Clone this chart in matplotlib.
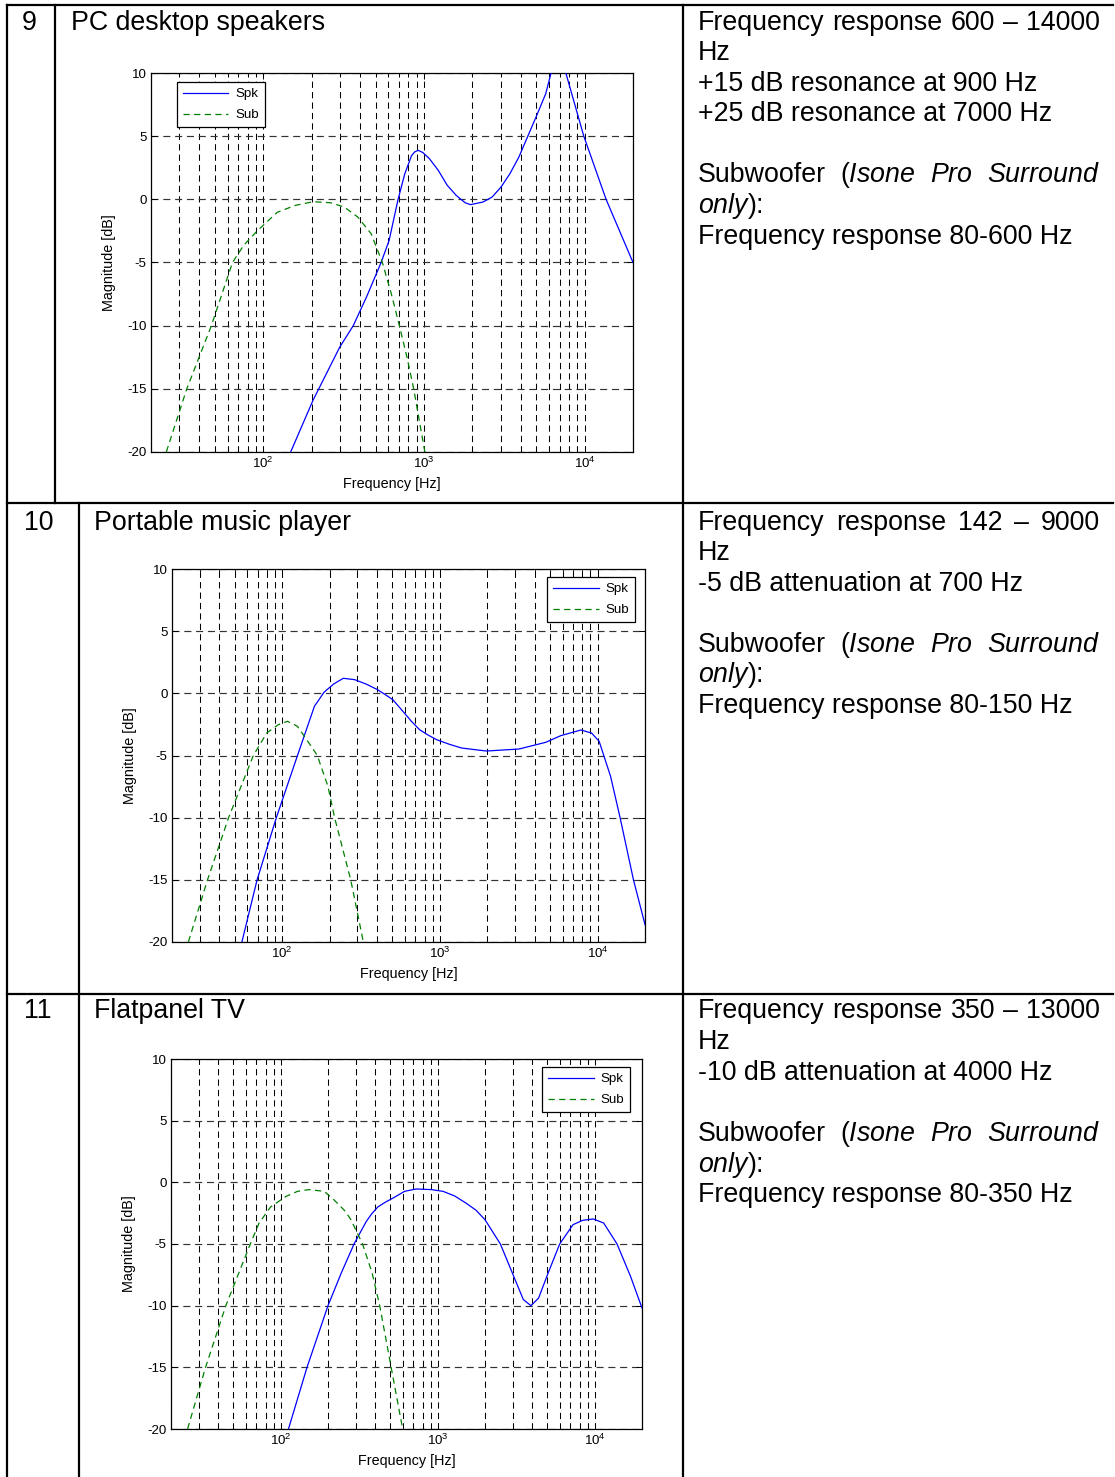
import numpy as np
import matplotlib
matplotlib.use('Agg')
import matplotlib.pyplot as plt
from matplotlib.ticker import LogLocator, NullFormatter

plt.rcParams['font.family'] = ['Liberation Sans', 'DejaVu Sans']
plt.rcParams['mathtext.fontset'] = 'custom'
plt.rcParams['mathtext.rm'] = 'Liberation Sans'
plt.rcParams['mathtext.it'] = 'Liberation Sans:italic'
plt.rcParams['mathtext.bf'] = 'Liberation Sans:bold'
plt.rcParams['axes.unicode_minus'] = False

W, H = 1115, 1477

# --- row 9: PC desktop speakers ---
spk9_f = [148, 204, 299, 363, 440, 541, 607, 690, 759, 836, 875, 920, 985, 1081, 1228,
          1396, 1588, 1804, 1950, 2334, 2655, 3016, 3428, 3898, 4430, 5036, 5726, 6180,
          6900, 7640, 9880, 13600, 20000]
spk9_db = [-20, -15.9, -11.7, -10, -7.7, -5, -3.25, 0, 2.0, 3.45, 3.75, 3.88, 3.7, 3.22,
           2.29, 1.11, 0.31, -0.27, -0.42, -0.21, 0.18, 0.97, 2.03, 3.35, 5.0, 6.65, 8.36,
           10, 12.3, 10, 5, 0, -5]
sub9_f = [24.9, 33.4, 47.5, 64.3, 75.5, 91.5, 122, 158, 204, 263, 319, 387, 469, 551,
          626, 703, 784, 863, 1013]
sub9_db = [-20, -15, -10, -5, -3.64, -2.51, -1.03, -0.48, -0.19, -0.27, -0.61, -1.4,
           -2.72, -5, -7.47, -10, -12.5, -15, -20]

# --- row 10: Portable music player ---
spk10_f = [55.5, 69.3, 91.8, 125, 160, 184, 212, 244, 288, 340, 403, 450, 503, 595, 660,
           743, 840, 955, 1150, 1374, 1973, 3170, 4690, 5860, 7840, 9160, 10240, 12100,
           13900, 16900, 20000]
spk10_db = [-20, -15, -10, -5, -1.05, 0.08, 0.75, 1.21, 1.1, 0.75, 0.29, -0.1, -0.51,
            -1.58, -2.25, -2.92, -3.35, -3.73, -4.1, -4.4, -4.64, -4.48, -3.94, -3.4,
            -2.95, -3.19, -3.86, -6.68, -10, -15, -18.6]
sub10_f = [25.4, 33.6, 45.7, 65.6, 79.8, 94.4, 108, 125, 143, 167, 195, 215, 272, 327]
sub10_db = [-20, -15, -10, -5, -3.19, -2.52, -2.25, -2.65, -3.73, -5, -7.48, -10, -15, -20]

# --- row 11: Flatpanel TV ---
spk11_f = [112, 147, 200, 243, 293, 351, 380, 415, 465, 520, 615, 728, 912, 1080, 1280,
           1511, 1750, 2000, 2506, 3135, 3510, 3925, 4390, 5050, 5980, 7280, 8380, 9800,
           11400, 13870, 16900, 20000]
spk11_db = [-20, -15, -10, -7.35, -5, -3.16, -2.55, -2.0, -1.6, -1.27, -0.73, -0.54,
            -0.59, -0.73, -1.1, -1.68, -2.25, -3.03, -5, -8, -9.51, -10, -9.38, -7.35,
            -5, -3.43, -3.08, -2.97, -3.3, -5, -7.62, -10.19]
sub11_f = [25.5, 33.2, 44.7, 64.0, 72.8, 86.1, 108, 128, 151, 189, 218, 258, 280, 332,
           382, 427, 505, 598]
sub11_db = [-20, -15, -10, -5, -3.3, -2.0, -1.14, -0.73, -0.59, -0.73, -1.41, -2.35,
            -3.03, -5, -7.35, -10, -15, -20]

row_numbers = ['9', '10', '11']
row_titles = ['PC desktop speakers', 'Portable music player', 'Flatpanel TV']
yticks = [-20, -15, -10, -5, 0, 5, 10]

sub_words = ['Subwoofer', r'($\mathit{Isone}$', r'$\mathit{Pro}$', r'$\mathit{Surround}$']
# (words, justified) per line, None = blank line
row_text = [
    [(['Frequency', 'response', '600', '–', '14000'], True), (['Hz'], False),
     (['+15 dB resonance at 900 Hz'], False), (['+25 dB resonance at 7000 Hz'], False),
     None, (sub_words, True), ([r'$\mathit{only}$):'], False),
     (['Frequency response 80-600 Hz'], False)],
    [(['Frequency', 'response', '142', '–', '9000'], True), (['Hz'], False),
     (['-5 dB attenuation at 700 Hz'], False),
     None, (sub_words, True), ([r'$\mathit{only}$):'], False),
     (['Frequency response 80-150 Hz'], False)],
    [(['Frequency', 'response', '350', '–', '13000'], True), (['Hz'], False),
     (['-10 dB attenuation at 4000 Hz'], False),
     None, (sub_words, True), ([r'$\mathit{only}$):'], False),
     (['Frequency response 80-350 Hz'], False)],
]

fig = plt.figure(figsize=(W / 100, H / 100), dpi=100)
renderer = fig.canvas.get_renderer()

# background axes in pixel coordinates for the table
bg = fig.add_axes([0, 0, 1, 1])
bg.set_xlim(0, W)
bg.set_ylim(H, 0)
bg.axis('off')

lw_tab = 1.6
bg.plot([7, 1113], [5, 5], color='k', lw=lw_tab)
bg.plot([7, 1113], [503, 503], color='k', lw=lw_tab)
bg.plot([7, 1113], [994, 994], color='k', lw=lw_tab)
bg.plot([7, 7], [5, H], color='k', lw=lw_tab)
bg.plot([55, 55], [5, 503], color='k', lw=lw_tab)
bg.plot([79, 79], [503, H], color='k', lw=lw_tab)
bg.plot([683, 683], [5, H], color='k', lw=lw_tab)

FS = 19.3
row_base = [29.5, 529.5, 1018.5]
num_x = [22, 24.5, 24.5]
title_x = [71, 94, 94]
LINE = 30.6
X_L, X_R = 698, 1100

for i in range(3):
    bg.text(num_x[i], row_base[i], row_numbers[i], fontsize=FS, va='baseline', ha='left')
    bg.text(title_x[i], row_base[i], row_titles[i], fontsize=FS, va='baseline', ha='left')
    for k, line in enumerate(row_text[i]):
        if line is None:
            continue
        words, justify = line
        y = row_base[i] + k * LINE
        if not justify:
            bg.text(X_L, y, ' '.join(words), fontsize=FS, va='baseline', ha='left')
            continue
        arts = [bg.text(0, y, w, fontsize=FS, va='baseline', ha='left') for w in words]
        widths = [a.get_window_extent(renderer=renderer).width for a in arts]
        gap = (X_R - X_L - sum(widths)) / (len(words) - 1)
        x = X_L
        for a, wd in zip(arts, widths):
            a.set_x(x)
            x += wd + gap


def draw_plot(rect, spk_f, spk_db, sub_f, sub_db, leg_loc, leg_xy):
    l, t, r, b = rect
    ax = fig.add_axes([l / W, 1 - b / H, (r - l) / W, (b - t) / H])
    ax.semilogx(spk_f, spk_db, color='b', lw=0.9, label='Spk', zorder=3)
    ax.semilogx(sub_f, sub_db, color=(0, 0.5, 0), lw=0.9, ls=(0, (5, 3.5)),
                label='Sub', zorder=3)
    ax.set_xlim(20, 20000)
    ax.set_ylim(-20, 10)
    ax.set_yticks(yticks)
    ax.set_yticklabels([str(v) for v in yticks])
    ax.xaxis.set_major_locator(LogLocator(base=10, numticks=10))
    ax.xaxis.set_minor_locator(LogLocator(base=10, subs=np.arange(2, 10), numticks=50))
    ax.xaxis.set_minor_formatter(NullFormatter())
    ax.grid(True, which='both', axis='x', color='k', lw=0.75, ls=(0, (6, 4)))
    ax.grid(True, which='major', axis='y', color='0.2', lw=0.85, ls=(0, (6, 4)))
    ax.tick_params(which='both', direction='in', top=True, right=True,
                   labelsize=9.6, pad=3)
    ax.tick_params(which='major', length=4, width=0.7)
    ax.tick_params(which='minor', length=2.5, width=0.6)
    for s in ax.spines.values():
        s.set_linewidth(0.9)
    ax.set_xlabel('Frequency [Hz]', fontsize=10.4, labelpad=4)
    ax.set_ylabel('Magnitude [dB]', fontsize=10.4, labelpad=8)
    leg = ax.legend(loc=leg_loc, bbox_to_anchor=(leg_xy[0] / W, 1 - leg_xy[1] / H),
                    bbox_transform=fig.transFigure, borderaxespad=0, fontsize=9.6,
                    fancybox=False, edgecolor='k', framealpha=1, handlelength=3.4,
                    handletextpad=0.5, labelspacing=0.65, borderpad=0.45)
    leg.get_frame().set_linewidth(0.9)
    return ax


draw_plot((151, 73, 633, 452), spk9_f, spk9_db, sub9_f, sub9_db, 'upper left', (177, 82))
draw_plot((172, 569, 645, 942), spk10_f, spk10_db, sub10_f, sub10_db, 'upper right', (635, 577))
draw_plot((171, 1059, 642, 1429), spk11_f, spk11_db, sub11_f, sub11_db, 'upper right', (630, 1067))

fig.savefig('out.png', dpi=100)
